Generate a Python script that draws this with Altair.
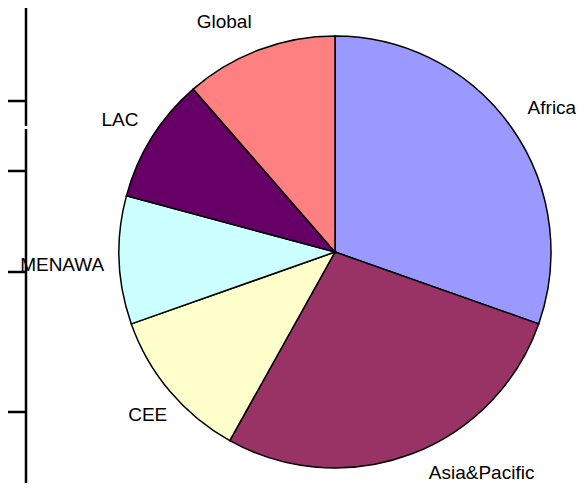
import altair as alt
import pandas as pd

# Pie data (share per region, clockwise from 12 o'clock)
regions = ["Africa", "Asia&Pacific", "CEE", "MENAWA", "LAC", "Global"]
values = [30.4, 27.7, 11.5, 9.6, 9.4, 11.4]
colors = ["#9999FF", "#993366", "#FFFFCC", "#CCFFFF", "#660066", "#FF8080"]

df = pd.DataFrame({"region": regions, "value": values, "order": list(range(len(regions)))})

# Decorative table-border lines at the left edge (pixel positions)
border_x = [18, 18, 0, 0, 0, 0]
border_x2 = [18, 18, 18, 18, 18, 18]
border_y = [0, 121, 93, 163, 264, 404]
border_y2 = [118, 475, 93, 163, 264, 404]
lines = pd.DataFrame({"x": border_x, "x2": border_x2, "y": border_y, "y2": border_y2})

CX, CY, R, LR = 327, 244, 216, 262
FONT = "Liberation Sans"

base = (
    alt.Chart(df)
    .transform_window(cum="sum(value)", sort=[alt.SortField("order")], frame=[None, 0])
    .transform_joinaggregate(total="sum(value)")
    .transform_calculate(
        t0="2*PI*(datum.cum-datum.value)/datum.total",
        t1="2*PI*datum.cum/datum.total",
        tm="PI*(2*datum.cum-datum.value)/datum.total",
    )
)

arcs = base.mark_arc(outerRadius=R, stroke="black", strokeWidth=1.5).encode(
    theta=alt.Theta("t0:Q", scale=None),
    theta2="t1:Q",
    x=alt.value(CX),
    y=alt.value(CY),
    color=alt.Color("region:N", scale=alt.Scale(domain=regions, range=colors), legend=None),
)

nudges = {
    "Africa": (3, 7),
    "Asia&Pacific": (54, -24),
    "CEE": (13, -6),
    "MENAWA": (-11, 3),
    "LAC": (7, 7),
    "Global": (-19, 15),
}

label_layers = []
for name in regions:
    dx, dy = nudges[name]
    label_layers.append(
        base.transform_filter(alt.datum.region == name)
        .mark_text(radius=LR, dx=dx, dy=dy, font=FONT, fontSize=19, color="black",
                   align="center", baseline="middle")
        .encode(
            theta=alt.Theta("tm:Q", scale=None),
            text="region:N",
            x=alt.value(CX),
            y=alt.value(CY),
        )
    )

rules = alt.Chart(lines).mark_rule(color="black", strokeWidth=2.5).encode(
    x=alt.X("x:Q", scale=None, axis=None),
    x2="x2:Q",
    y=alt.Y("y:Q", scale=None, axis=None),
    y2="y2:Q",
)

chart = (
    alt.layer(rules, arcs, *label_layers)
    .properties(width=568, height=475, padding=0, autosize=alt.AutoSizeParams(type="none"))
    .configure_view(stroke=None)
)

chart.save("out.html", embed_options={"renderer": "svg", "actions": False})
